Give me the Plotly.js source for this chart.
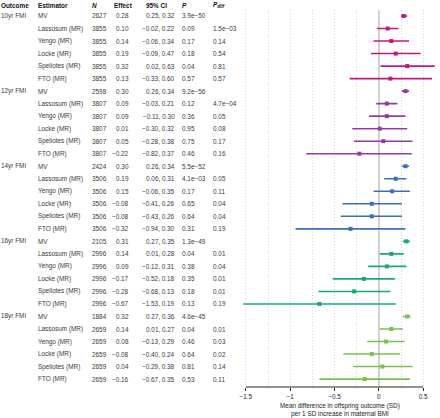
<!DOCTYPE html>
<html>
<head>
<meta charset="utf-8">
<script src="https://cdn.plot.ly/plotly-3.0.1.min.js"></script>
<style>html,body{margin:0;padding:0;background:#fff;}#chart{width:440px;height:418px;}</style>
</head>
<body>
<div id="chart"></div>
<script>
// ---- data ----
const outcomes = ['10yr FMI', '12yr FMI', '14yr FMI', '16yr FMI', '18yr FMI'];
const estimators = ['MV', 'Lassosum (MR)', 'Yengo (MR)', 'Locke (MR)', 'Speliotes (MR)', 'FTO (MR)'];
const nVals = [
  [2627, 3855, 3855, 3855, 3855, 3855],
  [2598, 3807, 3807, 3807, 3807, 3807],
  [2424, 3506, 3506, 3506, 3506, 3506],
  [2105, 2996, 2996, 2996, 2996, 2996],
  [1884, 2659, 2659, 2659, 2659, 2659]
];
const effect = [
  [0.28, 0.10, 0.14, 0.19, 0.32, 0.13],
  [0.30, 0.09, 0.09, 0.01, 0.05, -0.22],
  [0.30, 0.19, 0.15, -0.08, -0.08, -0.32],
  [0.31, 0.14, 0.09, -0.17, -0.28, -0.67],
  [0.32, 0.14, 0.08, -0.08, 0.04, -0.16]
];
const lower = [
  [0.25, -0.02, -0.06, -0.09, 0.02, -0.33],
  [0.26, -0.03, -0.11, -0.30, -0.28, -0.82],
  [0.26, 0.06, -0.06, -0.41, -0.43, -0.94],
  [0.27, 0.01, -0.12, -0.52, -0.68, -1.53],
  [0.27, 0.01, -0.13, -0.40, -0.29, -0.67]
];
const upper = [
  [0.32, 0.22, 0.34, 0.47, 0.63, 0.60],
  [0.34, 0.21, 0.30, 0.32, 0.38, 0.37],
  [0.34, 0.31, 0.35, 0.26, 0.26, 0.30],
  [0.35, 0.28, 0.31, 0.18, 0.13, 0.19],
  [0.36, 0.27, 0.29, 0.24, 0.38, 0.35]
];
const pVals = [
  ['3.9e\u221250', '0.09', '0.17', '0.18', '0.04', '0.57'],
  ['9.2e\u221256', '0.12', '0.36', '0.95', '0.75', '0.46'],
  ['5.5e\u221252', '4.1e\u221203', '0.17', '0.65', '0.64', '0.31'],
  ['1.3e\u221249', '0.04', '0.38', '0.35', '0.18', '0.13'],
  ['4.6e\u221245', '0.04', '0.46', '0.64', '0.81', '0.53']
];
const pDiff = [
  ['', '1.5e\u221203', '0.14', '0.54', '0.81', '0.57'],
  ['', '4.7e\u221204', '0.05', '0.08', '0.17', '0.16'],
  ['', '0.05', '0.11', '0.04', '0.04', '0.19'],
  ['', '0.01', '0.04', '0.01', '0.01', '0.19'],
  ['', '0.01', '0.03', '0.02', '0.14', '0.11']
];
const headers = ['Outcome', 'Estimator', 'N', 'Effect', '95% CI', 'P', 'Pdiff'];
const tickVals = [-1.5, -1, -0.5, 0, 0.5];
const xTitle = 'Mean difference in offspring outcome (SD)<br>per 1 SD increase in maternal BMI';

// ---- style ----
const colors = ['#C4187C', '#8E3F9C', '#3A70B5', '#17A97D', '#7BBF4C'];
const W = 440, H = 418;
const FONT = 'Liberation Sans, Arial, sans-serif';
const FS = 6.4;
const txtColor = '#3a3a3a';
const px = v => v / W;
const py = v => 1 - v / H;
const fmt = v => (v < 0 ? '\u2212' : '') + Math.abs(v).toFixed(2);

const axisY = 387;
const rowTop = 16, rowStep = 12.52;
const yTopPx = 9.7;
const yBottomRow = (axisY - rowTop) / rowStep;
const yTopRow = (yTopPx - rowTop) / rowStep;

const traces = [];
outcomes.forEach((o, g) => {
  const rows = estimators.map((e, j) => g * 6 + j);
  traces.push({
    type: 'scatter', mode: 'markers',
    x: effect[g], y: rows,
    marker: {symbol: 'square', size: 4, color: colors[g]},
    error_x: {
      type: 'data', symmetric: false,
      array: effect[g].map((v, j) => upper[g][j] - v),
      arrayminus: effect[g].map((v, j) => v - lower[g][j]),
      color: colors[g], thickness: 1.6, width: 0
    },
    cliponaxis: false,
    hoverinfo: 'skip', showlegend: false
  });
});

const ann = [];
const cell = (text, xPx, row, anchor) => {
  ann.push({
    text: text, xref: 'paper', yref: 'y', x: px(xPx), y: row,
    xanchor: anchor, yanchor: 'middle', showarrow: false,
    font: {family: FONT, size: FS, color: txtColor}, borderpad: 0, borderwidth: 0
  });
};
// header
const hdrX = [0.5, 37.5, 92, 114, 146, 182, 213];
headers.forEach((h, i) => {
  let t = '<b>' + h + '</b>';
  if (h === 'N' || h === 'P') t = '<b><i>' + h + '</i></b>';
  if (h === 'Pdiff') t = '<b><i>P</i><sub><i>diff</i></sub></b>';
  ann.push({
    text: t, xref: 'paper', yref: 'paper', x: px(hdrX[i]), y: py(5),
    xanchor: 'left', yanchor: 'middle', showarrow: false, borderpad: 0, borderwidth: 0,
    font: {family: FONT, size: FS, color: '#111'}
  });
});
outcomes.forEach((o, g) => {
  estimators.forEach((e, j) => {
    const r = g * 6 + j;
    if (j === 0) cell(o, 0.5, r, 'left');
    cell(e, 37.5, r, 'left');
    cell(String(nVals[g][j]), 92, r, 'left');
    cell(fmt(effect[g][j]), 128.5, r, 'right');
    cell(fmt(lower[g][j]) + ', ' + fmt(upper[g][j]), 174.5, r, 'right');
    cell(pVals[g][j], 182, r, 'left');
    if (pDiff[g][j]) cell(pDiff[g][j], 213, r, 'left');
  });
});
// axis title
ann.push({
  text: xTitle, xref: 'paper', yref: 'paper', x: px(340), y: py(409.5),
  xanchor: 'center', yanchor: 'middle', showarrow: false, borderpad: 0, borderwidth: 0,
  font: {family: FONT, size: FS, color: '#222'}
});

const layout = {
  width: W, height: H,
  margin: {l: 0, r: 0, t: 0, b: 0},
  paper_bgcolor: '#fff', plot_bgcolor: '#fff',
  xaxis: {
    domain: [237 / W, 437.4 / W],
    range: [-1.6, 0.66],
    tickmode: 'array', tickvals: tickVals,
    ticks: 'outside', ticklen: 3, tickcolor: '#222', tickwidth: 1,
    tickfont: {family: FONT, size: FS, color: '#222'},
    showgrid: true, gridcolor: '#d4d4d4', griddash: '1px,2px', gridwidth: 1,
    minor: {tickmode: 'linear', tick0: 0, dtick: 0.25, showgrid: true, gridcolor: '#d4d4d4', griddash: '1px,2px', gridwidth: 1, ticklen: 0},
    zeroline: true, zerolinecolor: '#d2d2d2', zerolinewidth: 2,
    showline: false, fixedrange: true
  },
  yaxis: {
    domain: [1 - axisY / H, 1 - yTopPx / H],
    range: [yBottomRow, yTopRow],
    showticklabels: false, showgrid: false, zeroline: false, showline: false, ticks: ''
  },
  shapes: [{
    type: 'line', xref: 'x', yref: 'paper',
    x0: tickVals[0], x1: tickVals[tickVals.length - 1], y0: 1 - axisY / H, y1: 1 - axisY / H,
    line: {color: '#222', width: 1}
  }],
  annotations: ann
};
Plotly.newPlot('chart', traces, layout, {staticPlot: true, displayModeBar: false});
</script>
</body>
</html>
